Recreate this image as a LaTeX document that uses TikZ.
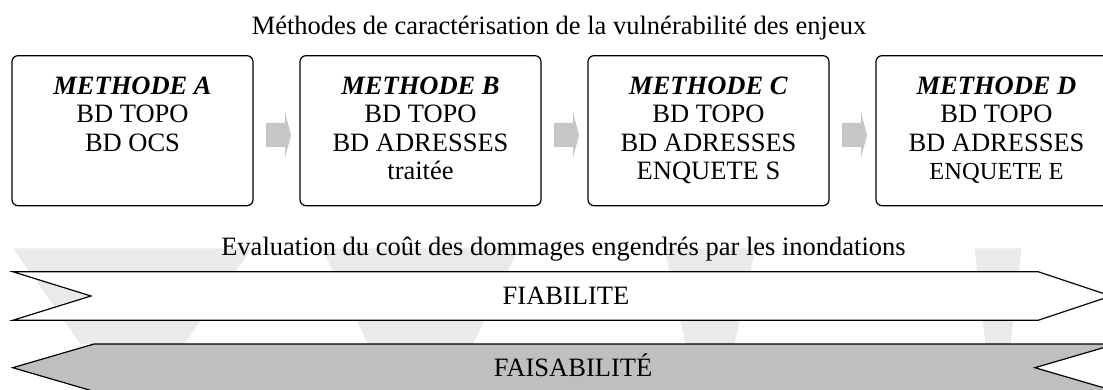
\documentclass[tikz,border=0pt]{standalone}
\usepackage{fontspec}
\setmainfont{Liberation Serif}
\usetikzlibrary{positioning,calc}
\definecolor{stepgray}{RGB}{198,198,198}
\definecolor{bandgray}{RGB}{191,191,191}
\definecolor{fangray}{RGB}{234,234,234}
\begin{document}
\begin{tikzpicture}[x=1pt,y=-1pt,
  methbox/.style={draw, line width=1.2pt, rounded corners=6pt, minimum width=241pt, minimum height=150pt, inner sep=0pt},
  methtext/.style={align=center, inner sep=0pt, font=\fontsize{26.5}{28.3}\selectfont},
  captext/.style={anchor=base, inner sep=0pt, font=\fontsize{26.5}{28.3}\selectfont}]

% Fix the frame of the picture
\useasboundingbox (0,0) rectangle (1103,390);
\clip (0,0) rectangle (1103,390);

% Background fans under the boxes
\fill[fangray] (13,248.3) -- (252,248.3) -- (184.5,344) -- (80.5,344) -- cycle;
\fill[fangray] (322,248.3) -- (519,248.3) -- (473,344) -- (368,344) -- cycle;
\fill[fangray] (664.5,248.3) -- (755.5,248.3) -- (734.5,344) -- (685.5,344) -- cycle;
\fill[fangray] (974.5,248.3) -- (1021.5,248.3) -- (1010.5,344) -- (985.5,344) -- cycle;

% Titles
\node[captext] (methtitle) at (559,34.3) {Méthodes de caractérisation de la vulnérabilité des enjeux};
\node[captext] (evaltitle) at (563.5,255) {Evaluation du coût des dommages engendrés par les inondations};

% Method boxes and their texts
\node[methbox] (boxA) at (132.5,130.7) {};
\node[methbox] (boxB) at (420.5,130.7) {};
\node[methbox] (boxC) at (708.5,130.7) {};
\node[methbox] (boxD) at (996.5,130.7) {};
\node[methtext, below=21.8pt of boxA.north] (textA) {\textbf{\textit{METHODE A}}\\BD TOPO\\BD OCS};
\node[methtext, below=21.8pt of boxB.north] (textB) {\textbf{\textit{METHODE B}}\\BD TOPO\\BD ADRESSES\\traitée};
\node[methtext, below=21.8pt of boxC.north] (textC) {\textbf{\textit{METHODE C}}\\BD TOPO\\BD ADRESSES\\ENQUETE S};
\node[methtext, below=21.8pt of boxD.north] (textD) {\textbf{\textit{METHODE D}}\\BD TOPO\\BD ADRESSES\\{\fontsize{24.5}{28.3}\selectfont ENQUETE E}};

% Steps between the boxes
\coordinate (stepAB) at ($(boxA.east)!0.5!(boxB.west)+(2,4.3)$);
\coordinate (stepBC) at ($(boxB.east)!0.5!(boxC.west)+(2,4.3)$);
\coordinate (stepCD) at ($(boxC.east)!0.5!(boxD.west)+(2,4.3)$);
\fill[stepgray] (stepAB) ++(-12.5,-12) -- ++(19,0) -- ++(0,-11) -- ++(6,23) -- ++(-6,23) -- ++(0,-11) -- ++(-19,0) -- cycle;
\fill[stepgray] (stepBC) ++(-12.5,-12) -- ++(19,0) -- ++(0,-11) -- ++(6,23) -- ++(-6,23) -- ++(0,-11) -- ++(-19,0) -- cycle;
\fill[stepgray] (stepCD) ++(-12.5,-12) -- ++(19,0) -- ++(0,-11) -- ++(6,23) -- ++(-6,23) -- ++(0,-11) -- ++(-19,0) -- cycle;

% Reliability and feasibility bands
\draw[line width=1.2pt, fill=white] (12.7,271.7) -- (1038,271.7) -- (1111,296) -- (1038,320.3) -- (12.7,320.3) -- (91,296) -- cycle;
\node[captext] (fiab) at (566,304.8) {FIABILITE};
\draw[line width=1.2pt, fill=bandgray] (94,344) -- (1116,344) -- (1035,367.7) -- (1116,391.4) -- (94,391.4) -- (12.7,367.7) -- cycle;
\node[captext] (faisab) at (573,376.5) {FAISABILITÉ};
\end{tikzpicture}
\end{document}
